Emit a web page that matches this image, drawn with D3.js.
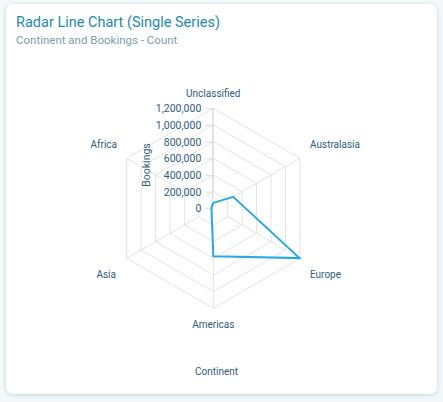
<!DOCTYPE html>
<html><head><meta charset="utf-8">
<script src="https://cdn.jsdelivr.net/npm/d3@7"></script>
<style>
html,body{margin:0;padding:0;background:#f4f8fa;}
body{width:443px;height:402px;overflow:hidden;font-family:Roboto,"Noto Sans",sans-serif;}
.card{position:absolute;left:6px;top:4px;width:431px;height:390px;background:#fff;border-radius:7px;box-shadow:0 1px 4px rgba(120,170,190,0.45);}
svg{position:absolute;left:0;top:0;}
</style></head>
<body><div class="card"></div><svg id="c" width="443" height="402"></svg>
<script>
const categories = ["Unclassified","Australasia","Europe","Americas","Asia","Africa"];
const bookings = [65000, 275000, 1195000, 575000, 25000, 25000];
const tickValues = [0,200000,400000,600000,800000,1000000,1200000];
const title = "Radar Line Chart (Single Series)";
const subtitle = "Continent and Bookings - Count";
const xTitle = "Continent";
const yTitle = "Bookings";

const svg = d3.select("#c");
svg.append("text").attr("x",16).attr("y",27).attr("font-size",14.5).attr("fill","#1f8aab").text(title);
svg.append("text").attr("x",16).attr("y",44).attr("font-size",11.5).attr("fill","#7c9eab").text(subtitle);

const cx = 213.3, cy = 208.3, R = 100;
const r = d3.scaleLinear().domain([0,1200000]).range([0,R]);
const a = c => categories.indexOf(c)*2*Math.PI/categories.length;
const pt = (c,v)=>[cx + r(v)*Math.sin(a(c)), cy - r(v)*Math.cos(a(c))];

const g = svg.append("g");
tickValues.slice(1).forEach(t=>{
  g.append("path").attr("d", d3.line()(categories.map(c=>pt(c,t))) + "Z")
   .attr("fill","none").attr("stroke","#e4e4e4").attr("stroke-width",1);
});
categories.forEach(c=>{
  const p0 = pt(c,200000), p1 = pt(c,1200000);
  g.append("line").attr("x1",p0[0]).attr("y1",p0[1]).attr("x2",p1[0]).attr("y2",p1[1])
   .attr("stroke","#e4e4e4").attr("stroke-width",1);
});
const yScale = d3.scaleLinear().domain([0,1200000]).range([cy, cy-R]);
const ax = svg.append("g").attr("transform",`translate(${cx},0)`)
  .call(d3.axisLeft(yScale).tickValues(tickValues).tickFormat(d3.format(",")).tickSize(8).tickPadding(4));
ax.select(".domain").attr("stroke","#d8d8d8").attr("d",`M-0.5,${cy}V${cy-R}`);
ax.selectAll(".tick line").attr("stroke","#dcdcdc");
ax.selectAll(".tick text").attr("fill","#2f5d7c").attr("font-size",10.5).attr("font-family","Roboto");

const labelPos = {
  "Unclassified":[213.3,97,"middle"],
  "Australasia":[310,148,"start"],
  "Europe":[310,278,"start"],
  "Americas":[213.3,328,"middle"],
  "Asia":[116,278,"end"],
  "Africa":[117,148,"end"]
};
categories.forEach(c=>{
  const p = labelPos[c];
  svg.append("text").attr("x",p[0]).attr("y",p[1]).attr("text-anchor",p[2])
    .attr("font-size",10).attr("fill","#2f5d7c").text(c);
});

svg.append("path")
  .attr("d", d3.line()(categories.map((c,i)=>pt(c,bookings[i]))) + "Z")
  .attr("fill","none").attr("stroke","#29a9e1").attr("stroke-width",2).attr("stroke-linejoin","miter");

svg.append("text").attr("transform","translate(150,165) rotate(-90)").attr("text-anchor","middle")
  .attr("font-size",10.5).attr("fill","#2f5d7c").text(yTitle);
svg.append("text").attr("x",216.5).attr("y",374.5).attr("text-anchor","middle")
  .attr("font-size",10).attr("fill","#2f5d7c").text(xTitle);
</script></body></html>
